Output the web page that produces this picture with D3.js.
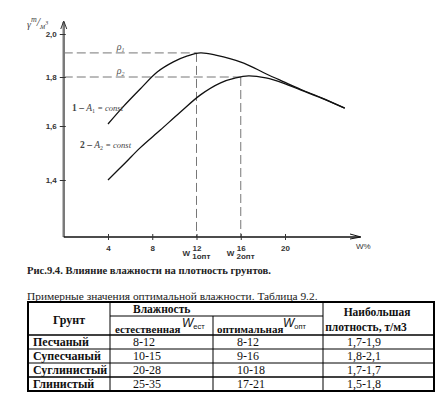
<!DOCTYPE html>
<html>
<head>
<meta charset="utf-8">
<script src="https://cdn.jsdelivr.net/npm/d3@7"></script>
<style>
  body { margin: 0; background: #fff; }
  svg { display: block; }
</style>
</head>
<body>
<script>
// chart data
const wTicks = [4, 8, 12, 16, 20]
const rhoTicks = [1.4, 1.6, 1.8, 2.0]
const curve1W = [4, 5.36, 6.91, 8.45, 9.91, 11.18, 12.36, 13.73, 16.27, 18.27, 19.9, 21.45, 23.3, 25.4]
const curve1Rho = [1.608, 1.678, 1.751, 1.823, 1.870, 1.898, 1.912, 1.902, 1.865, 1.815, 1.780, 1.749, 1.715, 1.673]
const curve2W = [4, 5.55, 6.9, 8.73, 10.55, 12.36, 14.18, 15.55, 16.7, 18.27, 19.9, 21.45, 23.3, 25.4]
const curve2Rho = [1.400, 1.463, 1.519, 1.585, 1.657, 1.727, 1.776, 1.796, 1.805, 1.796, 1.774, 1.746, 1.714, 1.673]
const wOpt = [12, 16]
const rhoMax = [1.912, 1.8]

// table data
const soils = ['Песчаный', 'Супесчаный', 'Суглинистый', 'Глинистый']
const wNatural = ['8-12', '10-15', '20-28', '25-35']
const wOptimal = ['8-12', '9-16', '10-18', '17-21']
const densityMax = ['1,7-1,9', '1,8-2,1', '1,7-1,7', '1,5-1,8']

const SERIF = "'Liberation Serif', 'Times New Roman', 'DejaVu Serif', serif"
const SANS = "'Liberation Sans', Arial, sans-serif"

const ru = d3.formatLocale({ decimal: ',', thousands: ' ', grouping: [3], currency: ['', ''] })
const fmt = ru.format('.1f')

const svg = d3.select('body').append('svg')
	.attr('width', 442)
	.attr('height', 397)

// scales (the y axis of the original is drawn unevenly, so a piecewise scale)
const x = d3.scaleLinear().domain([4, 20]).range([108, 285])
const y = d3.scaleLinear().domain([1.2, 1.4, 1.6, 1.8, 2.0]).range([237, 180, 126, 77, 34])

const x0 = x(0), yBase = y(1.2)
const dash = '9,4'

// dashed guide lines
wOpt.forEach((w, i) => {
	svg.append('line')
		.attr('x1', x0).attr('x2', x(w))
		.attr('y1', y(rhoMax[i])).attr('y2', y(rhoMax[i]))
		.attr('stroke', '#777').attr('stroke-width', 1).attr('stroke-dasharray', dash)
	svg.append('line')
		.attr('x1', x(w)).attr('x2', x(w))
		.attr('y1', y(rhoMax[i])).attr('y2', yBase)
		.attr('stroke', '#777').attr('stroke-width', 1).attr('stroke-dasharray', dash)
})

// y axis
svg.append('line')
	.attr('x1', x0).attr('x2', x0)
	.attr('y1', yBase).attr('y2', 22)
	.attr('stroke', '#7a7a7a').attr('stroke-width', 2.5)
svg.append('path')
	.attr('d', `M${x0 - 3},${29} L${x0},${21} L${x0 + 3},${29}`)
	.attr('fill', 'none').attr('stroke', '#333').attr('stroke-width', 1)

const yAxis = svg.append('g')
	.attr('transform', `translate(${x0},0)`)
	.call(d3.axisLeft(y).tickValues(rhoTicks).tickSizeInner(4).tickSizeOuter(0).tickPadding(3).tickFormat(fmt))
yAxis.select('.domain').remove()
yAxis.selectAll('.tick line').attr('x1', 2).attr('stroke', '#333')
yAxis.selectAll('.tick text')
	.attr('font-family', SANS)
	.attr('font-size', 8).attr('font-weight', 'bold').attr('fill', '#333')

// x axis
svg.append('line')
	.attr('x1', x0).attr('x2', 360)
	.attr('y1', yBase).attr('y2', yBase)
	.attr('stroke', '#111').attr('stroke-width', 1.5)
svg.append('path')
	.attr('d', `M350,${yBase - 3} L361,${yBase} L350,${yBase + 2}`)
	.attr('fill', 'none').attr('stroke', '#111').attr('stroke-width', 1)

const xAxis = svg.append('g')
	.attr('transform', `translate(0,${yBase})`)
	.call(d3.axisBottom(x).tickValues(wTicks).tickSizeInner(3).tickSizeOuter(0).tickPadding(5))
xAxis.select('.domain').remove()
xAxis.selectAll('.tick line').attr('y1', -3).attr('stroke', '#333')
xAxis.selectAll('.tick text')
	.attr('font-family', SANS)
	.attr('font-size', 8).attr('font-weight', 'bold').attr('fill', '#333')

// W opt labels under ticks
const optLabels = ['1опт', '2опт']
wOpt.forEach((w, i) => {
	const t = svg.append('text')
		.attr('x', x(w) - 14).attr('y', yBase + 19)
		.attr('font-family', SANS)
		.attr('font-size', 8).attr('font-weight', 'bold').attr('fill', '#333')
	t.append('tspan').text('W ')
	t.append('tspan').attr('dy', 3).text(optLabels[i])
})

svg.append('text')
	.attr('x', 356).attr('y', yBase + 12)
	.attr('font-family', SANS)
	.attr('font-size', 8).attr('fill', '#333')
	.text('W%')

// unit label
const unit = svg.append('text')
	.attr('x', 27).attr('y', 28)
	.attr('font-family', SERIF)
	.attr('font-style', 'italic').attr('fill', '#444')
unit.append('tspan').attr('font-size', 10).text('γ')
unit.append('tspan').attr('font-size', 8).attr('dy', -6).text('т')
unit.append('tspan').attr('font-size', 12).attr('dy', 4).text('/')
unit.append('tspan').attr('font-size', 8).attr('dy', 3).text('м')
unit.append('tspan').attr('font-size', 6).attr('dy', -4).text('3')

// curves
const line = d3.line()
	.x(d => x(d[0]))
	.y(d => y(d[1]))
	.curve(d3.curveCatmullRom.alpha(0.5))

const series = [
	d3.zip(curve1W, curve1Rho),
	d3.zip(curve2W, curve2Rho)
]
series.forEach(s => {
	svg.append('path')
		.datum(s)
		.attr('fill', 'none')
		.attr('stroke', '#111')
		.attr('stroke-width', 1.3)
		.attr('d', line)
})

// rho labels
rhoMax.forEach((r, i) => {
	const t = svg.append('text')
		.attr('x', x0 + 53).attr('y', y(r) - 3)
		.attr('font-family', SERIF)
		.attr('font-style', 'italic').attr('font-size', 10).attr('fill', '#555')
	t.append('tspan').text('ρ')
	t.append('tspan').attr('font-size', 6).attr('dy', 2).text(i + 1)
})

// curve labels
const curveLabels = [
	{ n: '1', a: '1', px: 72, rho: 1.66 },
	{ n: '2', a: '2', px: 80, rho: 1.52 }
]
curveLabels.forEach(c => {
	const t = svg.append('text')
		.attr('x', c.px).attr('y', y(c.rho))
		.attr('font-family', SERIF)
		.attr('font-size', 9.5).attr('fill', '#444')
	t.append('tspan').attr('font-weight', 'bold').text(c.n + ' – ')
	t.append('tspan').attr('font-style', 'italic').text('A')
	t.append('tspan').attr('font-size', 6).attr('dy', 2).text(c.a)
	t.append('tspan').attr('font-style', 'italic').attr('font-size', 8.5).attr('dy', -2).text(' = const')
})

// captions
svg.append('text')
	.attr('x', 27).attr('y', 274)
	.attr('font-family', SERIF)
	.attr('font-size', 10.6).attr('font-weight', 'bold').attr('fill', '#222')
	.text('Рис.9.4. Влияние влажности на плотность грунтов.')

svg.append('text')
	.attr('x', 27).attr('y', 300)
	.attr('font-family', SERIF)
	.attr('font-size', 11.4).attr('fill', '#222')
	.text('Примерные значения оптимальной влажности. Таблица 9.2.')

// table
const colX = [28, 110, 213, 323, 434]
const rowY = [302, 335, 349, 363, 377, 391]
const tbl = svg.append('g')
	.attr('font-family', SERIF)
	.attr('font-size', 12).attr('fill', '#111')

// outer frame
tbl.append('rect')
	.attr('x', colX[0]).attr('y', rowY[0])
	.attr('width', colX[4] - colX[0]).attr('height', rowY[5] - rowY[0])
	.attr('fill', 'none').attr('stroke', '#000').attr('stroke-width', 2)

// horizontal rules
rowY.slice(1, 5).forEach((ry, i) => {
	tbl.append('line')
		.attr('x1', colX[0]).attr('x2', colX[4])
		.attr('y1', ry).attr('y2', ry)
		.attr('stroke', '#000').attr('stroke-width', i === 0 || i === 3 ? 1.6 : 1)
})
tbl.append('line')
	.attr('x1', colX[1]).attr('x2', colX[3])
	.attr('y1', 316).attr('y2', 316)
	.attr('stroke', '#000').attr('stroke-width', 1)

// vertical rules
;[colX[1], colX[3]].forEach(cx => {
	tbl.append('line')
		.attr('x1', cx).attr('x2', cx)
		.attr('y1', rowY[0]).attr('y2', rowY[5])
		.attr('stroke', '#000').attr('stroke-width', 1)
})
tbl.append('line')
	.attr('x1', colX[2]).attr('x2', colX[2])
	.attr('y1', 316).attr('y2', rowY[5])
	.attr('stroke', '#000').attr('stroke-width', 1)

// header text
tbl.append('text').attr('x', (colX[0] + colX[1]) / 2).attr('y', 324)
	.attr('text-anchor', 'middle').attr('font-weight', 'bold').text('Грунт')
tbl.append('text').attr('x', 133).attr('y', 313)
	.attr('font-weight', 'bold').attr('font-size', 11.5).text('Влажность')
tbl.append('text').attr('x', 115).attr('y', 333).attr('font-size', 11).attr('font-weight', 'bold').text('естественная')
tbl.append('text').attr('x', 217).attr('y', 333).attr('font-size', 11).attr('font-weight', 'bold').text('оптимальная')

const wHead = [{ px: 182, sub: 'ест' }, { px: 283, sub: 'опт' }]
wHead.forEach(h => {
	const t = tbl.append('text').attr('x', h.px).attr('y', 327)
		.attr('font-family', SANS)
	t.append('tspan').attr('font-style', 'italic').attr('font-size', 12).text('W')
	t.append('tspan').attr('font-size', 7.5).attr('dy', 2).text(h.sub)
})

tbl.append('text').attr('x', 377).attr('y', 316)
	.attr('text-anchor', 'middle').attr('font-weight', 'bold').attr('font-size', 11.5).text('Наибольшая')
tbl.append('text').attr('x', 366).attr('y', 331)
	.attr('text-anchor', 'middle').attr('font-weight', 'bold').attr('font-size', 11.5).text('плотность, т/м3')

// body rows
soils.forEach((s, i) => {
	const by = rowY[i + 1] + 11
	tbl.append('text').attr('x', 33).attr('y', by).attr('font-weight', 'bold').text(s)
	tbl.append('text').attr('x', 133).attr('y', by).text(wNatural[i])
	tbl.append('text').attr('x', 237).attr('y', by).text(wOptimal[i])
	tbl.append('text').attr('x', 347).attr('y', by).text(densityMax[i])
})
</script>
</body>
</html>
